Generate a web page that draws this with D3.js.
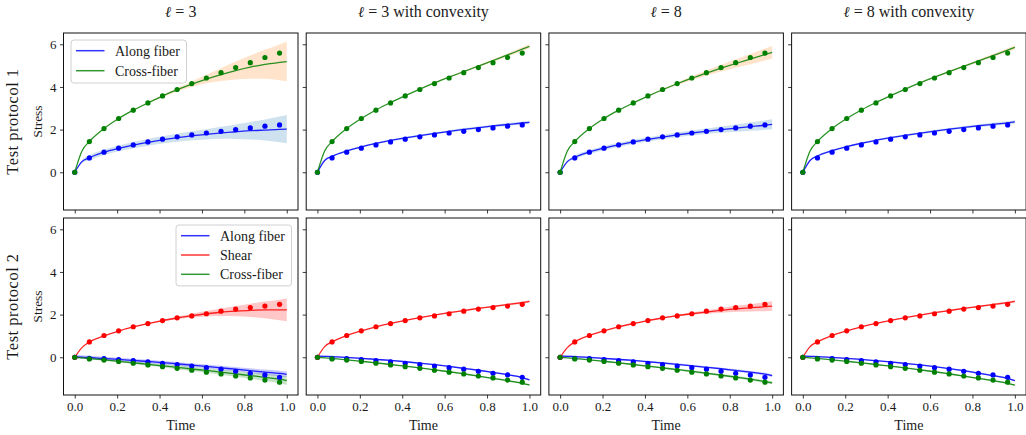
<!DOCTYPE html>
<html>
<head>
<meta charset="utf-8">
<script src="https://cdn.jsdelivr.net/npm/d3@7"></script>
<style>
  html, body { margin: 0; padding: 0; background: #fff; }
  svg { display: block; }
  text { font-family: "Liberation Serif", "DejaVu Serif", serif; fill: #1a1a1a; }
</style>
</head>
<body>
<svg id="chart" width="1026" height="435"></svg>
<script>
// ---------------- DATA ----------------
const columnEll = ["3", "3", "8", "8"];
const columnSuffix = ["", " with convexity", "", " with convexity"];
const rowLabels = ["Test protocol 1", "Test protocol 2"];
const xTicks = [0.0, 0.2, 0.4, 0.6, 0.8, 1.0];
const yTicks = [0, 2, 4, 6];

const tDots = [0, 0.069, 0.138, 0.207, 0.276, 0.345, 0.414, 0.483, 0.552, 0.621, 0.690, 0.759, 0.828, 0.897, 0.966];
const tLine = [0, 0.034, 0.069, 0.138, 0.207, 0.276, 0.345, 0.414, 0.483, 0.552, 0.621, 0.690, 0.759, 0.828, 0.897, 0.966, 1.0];

const p1AlongDots = [0, 0.67, 0.94, 1.13, 1.28, 1.42, 1.55, 1.66, 1.75, 1.84, 1.92, 2.00, 2.08, 2.16, 2.22];
const p1CrossDots = [0, 1.44, 2.05, 2.52, 2.91, 3.25, 3.58, 3.88, 4.16, 4.42, 4.67, 4.91, 5.14, 5.38, 5.59];
const p2AlongDots = [0, -0.05, -0.06, -0.11, -0.16, -0.22, -0.28, -0.34, -0.41, -0.49, -0.56, -0.66, -0.75, -0.83, -0.94];
const p2ShearDots = [0, 0.72, 1.02, 1.24, 1.43, 1.58, 1.72, 1.85, 1.94, 2.04, 2.16, 2.26, 2.33, 2.40, 2.48];
const p2CrossDots = [0, -0.08, -0.13, -0.20, -0.28, -0.36, -0.44, -0.52, -0.61, -0.70, -0.78, -0.88, -0.97, -1.07, -1.17];

const l3P1Along      = [0, 0.50, 0.68, 0.94, 1.12, 1.27, 1.40, 1.52, 1.62, 1.71, 1.78, 1.85, 1.90, 1.95, 1.98, 2.01, 2.02];
const l3P1AlongBand  = [0, 0.08, 0.12, 0.13, 0.14, 0.15, 0.16, 0.17, 0.19, 0.21, 0.24, 0.28, 0.34, 0.41, 0.49, 0.60, 0.66];
const l3P1Cross      = [0, 1.00, 1.44, 2.05, 2.52, 2.91, 3.25, 3.57, 3.87, 4.13, 4.37, 4.58, 4.77, 4.93, 5.06, 5.15, 5.19];
const l3P1CrossBand  = [0, 0.00, 0.01, 0.01, 0.02, 0.02, 0.03, 0.05, 0.08, 0.13, 0.20, 0.30, 0.42, 0.55, 0.68, 0.84, 0.94];

const l3cP1Along     = [0, 0.55, 0.75, 1.00, 1.19, 1.35, 1.49, 1.61, 1.72, 1.82, 1.92, 2.01, 2.09, 2.17, 2.24, 2.31, 2.34];
const l3cP1AlongBand = [0, 0.03, 0.04, 0.04, 0.04, 0.04, 0.05, 0.05, 0.05, 0.05, 0.05, 0.06, 0.06, 0.06, 0.07, 0.07, 0.08];
const l3cP1Cross     = [0, 1.00, 1.44, 2.05, 2.52, 2.92, 3.27, 3.59, 3.90, 4.19, 4.46, 4.72, 4.98, 5.24, 5.50, 5.77, 5.90];
const l3cP1CrossBand = [0, 0.00, 0.00, 0.01, 0.01, 0.01, 0.01, 0.02, 0.02, 0.03, 0.03, 0.04, 0.05, 0.06, 0.07, 0.09, 0.10];

const l8P1Along      = [0, 0.50, 0.70, 0.95, 1.13, 1.28, 1.42, 1.54, 1.65, 1.75, 1.84, 1.92, 2.00, 2.07, 2.14, 2.21, 2.25];
const l8P1AlongBand  = [0, 0.05, 0.08, 0.09, 0.10, 0.10, 0.10, 0.10, 0.10, 0.11, 0.12, 0.13, 0.15, 0.17, 0.19, 0.22, 0.23];
const l8P1Cross      = [0, 1.00, 1.44, 2.05, 2.52, 2.91, 3.25, 3.57, 3.87, 4.15, 4.41, 4.65, 4.88, 5.10, 5.31, 5.52, 5.62];
const l8P1CrossBand  = [0, 0.00, 0.00, 0.01, 0.01, 0.01, 0.02, 0.03, 0.04, 0.06, 0.09, 0.12, 0.16, 0.20, 0.24, 0.28, 0.30];

const l8cP1Along     = [0, 0.55, 0.76, 1.01, 1.20, 1.36, 1.50, 1.62, 1.73, 1.83, 1.93, 2.02, 2.10, 2.18, 2.25, 2.32, 2.36];
const l8cP1AlongBand = [0, 0.03, 0.04, 0.04, 0.04, 0.04, 0.05, 0.05, 0.05, 0.05, 0.05, 0.06, 0.06, 0.06, 0.07, 0.07, 0.08];
const l8cP1Cross     = [0, 1.00, 1.44, 2.05, 2.52, 2.92, 3.27, 3.59, 3.90, 4.19, 4.46, 4.72, 4.97, 5.22, 5.47, 5.73, 5.86];
const l8cP1CrossBand = [0, 0.00, 0.00, 0.01, 0.01, 0.01, 0.01, 0.02, 0.02, 0.03, 0.03, 0.04, 0.05, 0.06, 0.07, 0.09, 0.10];

const l3P2Along      = [0.02, 0.01, -0.01, -0.06, -0.10, -0.15, -0.20, -0.25, -0.31, -0.37, -0.43, -0.50, -0.56, -0.63, -0.70, -0.76, -0.80];
const l3P2AlongBand  = [0.08, 0.08, 0.08, 0.08, 0.08, 0.08, 0.08, 0.08, 0.09, 0.09, 0.09, 0.10, 0.10, 0.11, 0.12, 0.13, 0.13];
const l3P2Shear      = [0, 0.45, 0.72, 1.00, 1.23, 1.42, 1.58, 1.72, 1.84, 1.95, 2.04, 2.11, 2.16, 2.20, 2.22, 2.22, 2.22];
const l3P2ShearBand  = [0, 0.00, 0.01, 0.01, 0.01, 0.02, 0.03, 0.04, 0.06, 0.09, 0.13, 0.18, 0.24, 0.31, 0.39, 0.48, 0.53];
const l3P2Cross      = [0, -0.03, -0.06, -0.12, -0.19, -0.26, -0.33, -0.40, -0.47, -0.55, -0.62, -0.70, -0.78, -0.86, -0.94, -1.03, -1.10];
const l3P2CrossBand  = [0.01, 0.02, 0.03, 0.04, 0.05, 0.06, 0.07, 0.08, 0.09, 0.10, 0.11, 0.12, 0.13, 0.15, 0.17, 0.19, 0.20];

const l3cP2Along     = [0.05, 0.04, 0.03, -0.01, -0.05, -0.10, -0.15, -0.21, -0.28, -0.35, -0.43, -0.52, -0.61, -0.71, -0.82, -0.95, -1.06];
const l3cP2AlongBand = [0.03, 0.03, 0.03, 0.03, 0.03, 0.03, 0.03, 0.03, 0.03, 0.03, 0.03, 0.03, 0.04, 0.04, 0.04, 0.04, 0.04];
const l3cP2Shear     = [0, 0.50, 0.72, 1.02, 1.24, 1.43, 1.59, 1.73, 1.86, 1.98, 2.09, 2.19, 2.29, 2.38, 2.47, 2.56, 2.62];
const l3cP2ShearBand = [0, 0.01, 0.01, 0.01, 0.01, 0.01, 0.02, 0.02, 0.02, 0.02, 0.03, 0.03, 0.03, 0.04, 0.04, 0.05, 0.05];
const l3cP2Cross     = [0, -0.03, -0.06, -0.12, -0.19, -0.26, -0.34, -0.42, -0.50, -0.59, -0.68, -0.78, -0.88, -0.99, -1.10, -1.22, -1.30];
const l3cP2CrossBand = [0.01, 0.01, 0.01, 0.01, 0.02, 0.02, 0.02, 0.02, 0.02, 0.02, 0.03, 0.03, 0.03, 0.03, 0.04, 0.04, 0.04];

const l8P2Along      = [0.05, 0.04, 0.03, -0.01, -0.05, -0.10, -0.15, -0.21, -0.27, -0.33, -0.40, -0.47, -0.54, -0.62, -0.70, -0.79, -0.86];
const l8P2AlongBand  = [0.04, 0.04, 0.04, 0.04, 0.04, 0.04, 0.04, 0.04, 0.05, 0.05, 0.05, 0.05, 0.05, 0.06, 0.06, 0.06, 0.06];
const l8P2Shear      = [0, 0.45, 0.72, 1.02, 1.24, 1.43, 1.58, 1.72, 1.84, 1.95, 2.04, 2.12, 2.20, 2.27, 2.32, 2.37, 2.40];
const l8P2ShearBand  = [0, 0.00, 0.01, 0.01, 0.01, 0.01, 0.02, 0.02, 0.03, 0.04, 0.06, 0.08, 0.11, 0.14, 0.17, 0.21, 0.23];
const l8P2Cross      = [0, -0.03, -0.06, -0.12, -0.19, -0.26, -0.34, -0.42, -0.50, -0.58, -0.66, -0.75, -0.84, -0.93, -1.03, -1.14, -1.20];
const l8P2CrossBand  = [0.01, 0.01, 0.02, 0.02, 0.03, 0.03, 0.03, 0.04, 0.04, 0.04, 0.05, 0.05, 0.05, 0.06, 0.06, 0.07, 0.07];

const l8cP2Along     = [0.05, 0.04, 0.03, -0.01, -0.05, -0.10, -0.16, -0.22, -0.29, -0.36, -0.44, -0.53, -0.63, -0.74, -0.86, -0.99, -1.10];
const l8cP2AlongBand = [0.03, 0.03, 0.03, 0.03, 0.03, 0.03, 0.03, 0.03, 0.03, 0.03, 0.03, 0.03, 0.04, 0.04, 0.04, 0.04, 0.04];
const l8cP2Shear     = [0, 0.50, 0.72, 1.02, 1.24, 1.43, 1.59, 1.73, 1.86, 1.98, 2.09, 2.19, 2.29, 2.38, 2.47, 2.56, 2.62];
const l8cP2ShearBand = [0, 0.01, 0.01, 0.01, 0.01, 0.01, 0.02, 0.02, 0.02, 0.02, 0.03, 0.03, 0.03, 0.04, 0.04, 0.05, 0.05];
const l8cP2Cross     = [0, -0.03, -0.06, -0.12, -0.19, -0.26, -0.34, -0.42, -0.50, -0.59, -0.68, -0.78, -0.88, -0.99, -1.10, -1.22, -1.31];
const l8cP2CrossBand = [0.01, 0.01, 0.01, 0.01, 0.02, 0.02, 0.02, 0.02, 0.02, 0.02, 0.03, 0.03, 0.03, 0.03, 0.04, 0.04, 0.04];

// ---------------- STYLE ----------------
const C = {
  along: "#0000ff", cross: "#008000", shear: "#ff0000",
  bandAlong1: "#1f77b4", bandCross1: "#ff7f0e",
  bandAlong2: "#0000ff", bandShear2: "#ff0000", bandCross2: "#008000"
};

const proto1 = (along, alongBand, cross, crossBand) => [
  { name: "Along fiber", line: along, band: alongBand, dots: p1AlongDots, color: C.along, bandColor: C.bandAlong1 },
  { name: "Cross-fiber", line: cross, band: crossBand, dots: p1CrossDots, color: C.cross, bandColor: C.bandCross1 }
];
const proto2 = (along, alongBand, shear, shearBand, cross, crossBand) => [
  { name: "Along fiber", line: along, band: alongBand, dots: p2AlongDots, color: C.along, bandColor: C.bandAlong2 },
  { name: "Shear", line: shear, band: shearBand, dots: p2ShearDots, color: C.shear, bandColor: C.bandShear2 },
  { name: "Cross-fiber", line: cross, band: crossBand, dots: p2CrossDots, color: C.cross, bandColor: C.bandCross2 }
];

const grid = [
  [proto1(l3P1Along, l3P1AlongBand, l3P1Cross, l3P1CrossBand),
   proto1(l3cP1Along, l3cP1AlongBand, l3cP1Cross, l3cP1CrossBand),
   proto1(l8P1Along, l8P1AlongBand, l8P1Cross, l8P1CrossBand),
   proto1(l8cP1Along, l8cP1AlongBand, l8cP1Cross, l8cP1CrossBand)],
  [proto2(l3P2Along, l3P2AlongBand, l3P2Shear, l3P2ShearBand, l3P2Cross, l3P2CrossBand),
   proto2(l3cP2Along, l3cP2AlongBand, l3cP2Shear, l3cP2ShearBand, l3cP2Cross, l3cP2CrossBand),
   proto2(l8P2Along, l8P2AlongBand, l8P2Shear, l8P2ShearBand, l8P2Cross, l8P2CrossBand),
   proto2(l8cP2Along, l8cP2AlongBand, l8cP2Shear, l8cP2ShearBand, l8cP2Cross, l8cP2CrossBand)]
];

// ---------------- LAYOUT ----------------
const svg = d3.select("#chart");
const panelW = 234.5, panelH = 177;
const left0 = 63.5, stepX = 242.7;
const top0 = 33, stepY = 185;
const SERIF_NAME = "Liberation Serif";

const x = d3.scaleLinear().domain([-0.053, 1.053]).range([0, panelW]);
const y = d3.scaleLinear().domain([-1.77, 6.53]).range([panelH, 0]);

const lineGen = d3.line().x((d) => x(d[0])).y((d) => y(d[1])).curve(d3.curveMonotoneX);
const areaGen = d3.area().x((d) => x(d[0])).y0((d) => y(d[1] - d[2])).y1((d) => y(d[1] + d[2])).curve(d3.curveMonotoneX);

// serif text helper: font set as presentation attribute and inline style
function serifText(sel, size) {
  return sel.attr("font-family", SERIF_NAME).style("font-family", SERIF_NAME)
    .attr("font-size", size).style("font-size", size + "px").style("font-weight", "400");
}

grid.forEach((row, r) => {
  row.forEach((series, c) => {
    const g = svg.append("g").attr("transform", `translate(${left0 + c * stepX},${top0 + r * stepY})`);

    const clipId = `clip-${r}-${c}`;
    g.append("clipPath").attr("id", clipId).append("rect").attr("width", panelW).attr("height", panelH);
    const plot = g.append("g").attr("clip-path", `url(#${clipId})`);

    series.forEach((s) => {
      const pts = tLine.map((t, i) => [t, s.line[i], s.band[i]]);
      plot.append("path").attr("d", areaGen(pts)).attr("fill", s.bandColor).attr("fill-opacity", 0.22).attr("stroke", "none");
    });
    series.forEach((s) => {
      const pts = tLine.map((t, i) => [t, s.line[i]]);
      plot.append("path").attr("d", lineGen(pts)).attr("fill", "none").attr("stroke", s.color).attr("stroke-width", 1.3).attr("stroke-opacity", 0.85);
    });
    series.forEach((s) => {
      plot.selectAll(null).data(tDots.map((t, i) => [t, s.dots[i]])).enter().append("circle")
        .attr("cx", (d) => x(d[0])).attr("cy", (d) => y(d[1])).attr("r", 2.6).attr("fill", s.color);
    });

    const xAxis = d3.axisBottom(x).tickValues(xTicks).tickSize(3.5).tickPadding(3.5)
      .tickFormat(r === 1 ? d3.format(".1f") : () => "");
    const yAxis = d3.axisLeft(y).tickValues(yTicks).tickSize(3.5).tickPadding(3.5)
      .tickFormat(c === 0 ? d3.format("d") : () => "");
    const gx = g.append("g").attr("transform", `translate(0,${panelH})`).call(xAxis);
    const gy = g.append("g").call(yAxis);
    [gx, gy].forEach((ax) => {
      ax.select(".domain").remove();
      ax.selectAll(".tick line").attr("stroke", "#222").attr("stroke-width", 0.9);
      serifText(ax.selectAll(".tick text").attr("fill", "#1a1a1a"), 13);
    });

    g.append("rect").attr("width", panelW).attr("height", panelH).attr("fill", "none").attr("stroke", "#111").attr("stroke-width", 1);

    if (r === 0) {
      const t = serifText(g.append("text"), 16).attr("x", panelW / 2).attr("y", -16).attr("text-anchor", "middle");
      t.append("tspan").attr("font-family", "DejaVu Serif").style("font-family", "DejaVu Serif")
        .style("font-style", "italic").style("font-size", "15px").text("ℓ");
      serifText(t.append("tspan"), 16).text(" = " + columnEll[c] + columnSuffix[c]);
    }
    if (r === 1) {
      serifText(g.append("text"), 14).attr("x", panelW / 2).attr("y", panelH + 35).attr("text-anchor", "middle").text("Time");
    }
    if (c === 0) {
      serifText(g.append("text"), 13.5).attr("transform", `translate(-22,${panelH / 2}) rotate(-90)`).attr("text-anchor", "middle").text("Stress");
      serifText(g.append("text"), 16.5).attr("transform", `translate(-46,${panelH / 2}) rotate(-90)`).attr("text-anchor", "middle")
        .style("letter-spacing", "0.5px").text(rowLabels[r]);
    }

    if (c === 0) {
      const lg = g.append("g");
      const lx = r === 0 ? 7.5 : 112.5;
      const ly = 7;
      const lw = 115.5;
      const rowH = r === 0 ? 20 : 19.3;
      const lh = series.length * rowH + 3;
      lg.append("rect").attr("x", lx).attr("y", ly).attr("width", lw).attr("height", lh).attr("rx", 3)
        .attr("fill", "#fff").attr("fill-opacity", 0.85).attr("stroke", "#d0d0d0").attr("stroke-width", 1);
      series.forEach((s, i) => {
        const yy = ly + 10.7 + i * rowH;
        lg.append("line").attr("x1", lx + 5).attr("x2", lx + 33.5).attr("y1", yy).attr("y2", yy)
          .attr("stroke", s.color).attr("stroke-width", 1.5).attr("stroke-opacity", 0.8);
        serifText(lg.append("text"), 14).attr("x", lx + 44).attr("y", yy).attr("dy", "0.35em").text(s.name);
      });
    }
  });
});
</script>
</body>
</html>
